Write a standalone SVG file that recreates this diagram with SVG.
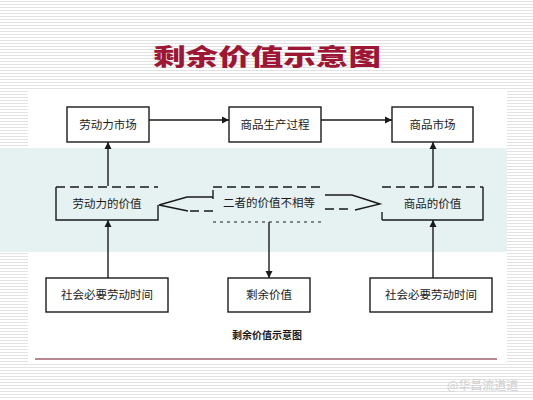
<svg xmlns="http://www.w3.org/2000/svg" width="533" height="400" viewBox="0 0 533 400">
<defs>
  <pattern id="stripes" x="0" y="0" width="533" height="3" patternUnits="userSpaceOnUse">
    <rect x="0" y="0" width="533" height="3" fill="#ffffff"/>
    <rect x="0" y="1" width="533" height="1" fill="#e2e2e2"/>
  </pattern>
  <marker id="ah" viewBox="0 0 10 10" refX="10" refY="5" markerWidth="7" markerHeight="8" markerUnits="userSpaceOnUse" orient="auto">
    <path d="M0,0 L10,5 L0,10 z" fill="#1a1a1a"/>
  </marker>
  <style>
    .box { fill: #ffffff; stroke: #1a1a1a; stroke-width: 1.4; }
    .lbl { font-family: "Noto Sans CJK SC", "Noto Sans", sans-serif; font-size: 11.5px; fill: #1a1a1a; text-anchor: middle; }
    .con { stroke: #1a1a1a; stroke-width: 1.4; fill: none; }
    .dash { stroke: #1a1a1a; stroke-width: 1.4; fill: none; stroke-dasharray: 9 5; }
    .dot { stroke: #1a1a1a; stroke-width: 1.2; fill: none; stroke-dasharray: 3 4; }
  </style>
</defs>

<!-- background -->
<rect x="0" y="0" width="533" height="400" fill="url(#stripes)"/>
<rect x="28" y="90" width="479" height="272" fill="#ffffff"/>
<rect x="0" y="148" width="507" height="104" fill="#e6f2f2"/>
<line x1="35" y1="359" x2="497" y2="359" stroke="#b88890" stroke-width="2.2"/>

<!-- title -->
<text x="267" y="65" font-family="Noto Sans CJK SC, sans-serif" font-size="23" font-weight="900" fill="#9e1634" text-anchor="middle" textLength="228" lengthAdjust="spacingAndGlyphs">剩余价值示意图</text>

<!-- connectors -->
<g id="connectors">
  <line class="con" x1="149" y1="120" x2="229" y2="120" marker-end="url(#ah)"/>
  <line class="con" x1="321" y1="120" x2="392" y2="120" marker-end="url(#ah)"/>
  <line class="con" x1="108" y1="186" x2="108" y2="142" marker-end="url(#ah)"/>
  <line class="con" x1="108" y1="278" x2="108" y2="220" marker-end="url(#ah)"/>
  <line class="con" x1="433" y1="187" x2="433" y2="142" marker-end="url(#ah)"/>
  <line class="con" x1="433" y1="278" x2="433" y2="220" marker-end="url(#ah)"/>
  <line class="con" x1="269" y1="222" x2="269" y2="278" marker-end="url(#ah)"/>
  <!-- hollow double block arrow -->
  <path class="con" d="M213,197 L187,197 L159,205 L188,211"/>
  <path class="dash" d="M190,211 L213,211"/>
  <path class="con" d="M325,195 L352,195 L380,204 L355,210"/>
  <path class="dash" d="M325,209 L352,209"/>
</g>

<!-- nodes -->
<g id="n-labor-market">
  <rect class="box" x="67" y="107" width="82" height="35"/>
  <text class="lbl" x="108" y="129">劳动力市场</text>
</g>
<g id="n-production">
  <rect class="box" x="229" y="107" width="92" height="35"/>
  <text class="lbl" x="275" y="129">商品生产过程</text>
</g>
<g id="n-commodity-market">
  <rect class="box" x="392" y="107" width="81" height="35"/>
  <text class="lbl" x="432.5" y="129">商品市场</text>
</g>
<g id="n-labor-value">
  <path class="con" d="M56,187 L56,220 L158,220 L158,205"/>
  <path class="dash" d="M56,187 L158,187"/>
  <text class="lbl" x="107" y="208">劳动力的价值</text>
</g>
<g id="n-unequal">
  <path class="dash" d="M213,187 L325,187"/>
  <path class="dot" d="M213,222 L325,222"/>
  <path class="con" d="M213,190 L213,199"/>
  <text class="lbl" x="269" y="207">二者的价值不相等</text>
</g>
<g id="n-commodity-value">
  <path class="con" d="M483,187 L483,220 L382,220"/>
  <path class="dash" d="M382,187 L483,187"/>
  <path class="con" d="M382,212 L382,220"/>
  <text class="lbl" x="432.5" y="208">商品的价值</text>
</g>
<g id="n-sntl-left">
  <rect class="box" x="46" y="278" width="122" height="34"/>
  <text class="lbl" x="107" y="299">社会必要劳动时间</text>
</g>
<g id="n-surplus">
  <rect class="box" x="228" y="278" width="82" height="34"/>
  <text class="lbl" x="269" y="299">剩余价值</text>
</g>
<g id="n-sntl-right">
  <rect class="box" x="370" y="278" width="122" height="34"/>
  <text class="lbl" x="431" y="299">社会必要劳动时间</text>
</g>

<!-- caption -->
<text x="267" y="339" font-family="Noto Sans CJK SC, sans-serif" font-size="10" font-weight="bold" fill="#1a1a1a" text-anchor="middle">剩余价值示意图</text>

<!-- watermark -->
<text x="447" y="390" font-family="Noto Sans CJK SC, sans-serif" font-size="12" fill="#cfcfcf">@华昌流道道</text>
</svg>
